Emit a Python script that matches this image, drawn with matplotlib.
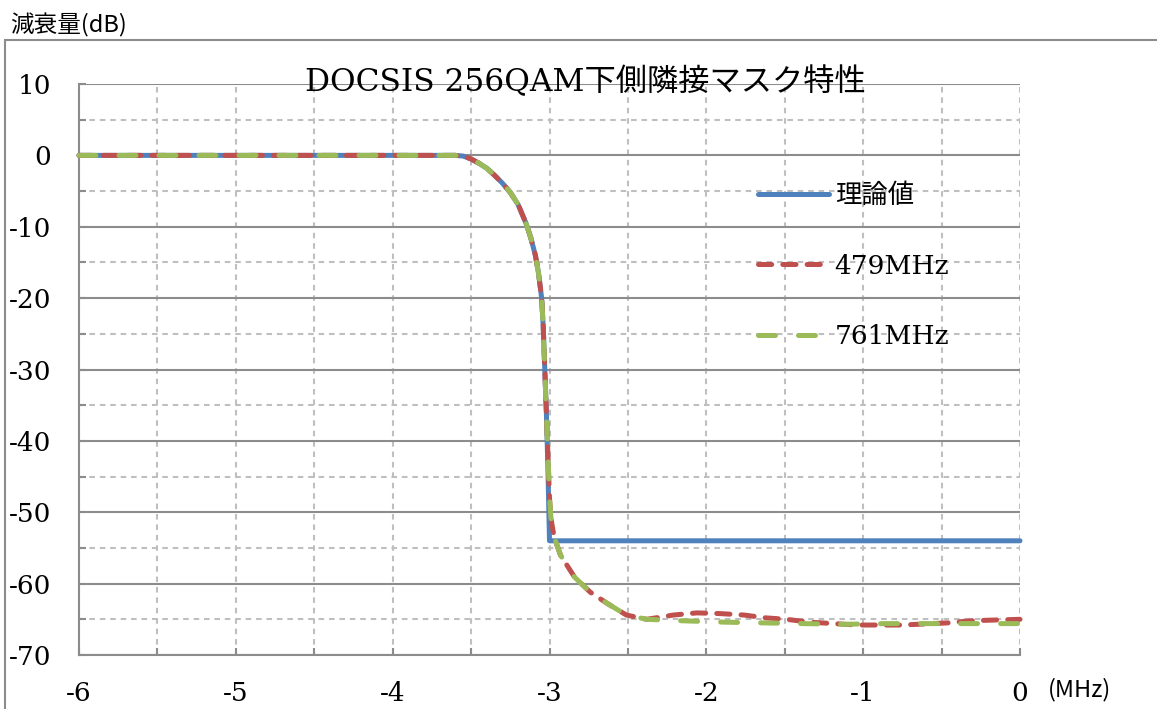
import matplotlib
matplotlib.use("Agg")
import matplotlib.pyplot as plt
from matplotlib.patches import Rectangle
from matplotlib.ticker import MultipleLocator

# ── Data ───────────────────────────────────────────────────────────────────
theory_x = [-6.0, -3.6, -3.55, -3.5, -3.45, -3.4, -3.35, -3.3, -3.25, -3.2,
            -3.15, -3.12, -3.09, -3.07, -3.05, -3.04, -3.03, -3.02, -3.01,
            -3.0, 0.0]
theory_y = [0.0, 0.0, -0.1, -0.5, -1.1, -1.8, -2.8, -3.9, -5.2, -6.9,
            -9.5, -11.5, -14.0, -16.5, -20.0, -24.0, -30.0, -36.0, -44.0,
            -54.0, -54.0]

m479_x = [-6.0, -3.6, -3.55, -3.5, -3.45, -3.4, -3.35, -3.3, -3.25, -3.2,
          -3.15, -3.12, -3.09, -3.07, -3.05, -3.04, -3.03, -3.02, -3.01,
          -3.0, -2.99, -2.97, -2.93, -2.84, -2.74, -2.63, -2.51, -2.38,
          -2.21, -2.06, -1.91, -1.76, -1.62, -1.49, -1.34, -1.19, -1.04,
          -0.75, -0.46, -0.31, -0.16, 0.0]
m479_y = [0.0, 0.0, -0.1, -0.5, -1.1, -1.8, -2.8, -3.9, -5.2, -6.9,
          -9.5, -11.5, -14.0, -16.5, -20.0, -24.0, -30.0, -36.0, -42.0,
          -48.0, -51.0, -53.5, -56.0, -59.1, -61.2, -62.8, -64.4, -65.0,
          -64.4, -64.1, -64.2, -64.4, -64.8, -65.0, -65.4, -65.6, -65.8,
          -65.8, -65.5, -65.2, -65.1, -65.0]

m761_x = [-6.0, -3.6, -3.55, -3.5, -3.45, -3.4, -3.35, -3.3, -3.25, -3.2,
          -3.15, -3.12, -3.09, -3.07, -3.05, -3.04, -3.03, -3.02, -3.01,
          -3.0, -2.99, -2.97, -2.93, -2.84, -2.74, -2.63, -2.51, -2.38,
          -2.16, -1.88, -1.64, -1.38, -1.13, -0.86, -0.6, -0.35, 0.0]
m761_y = [0.0, 0.0, -0.1, -0.5, -1.1, -1.8, -2.8, -3.9, -5.2, -6.9,
          -9.5, -11.5, -14.0, -16.5, -20.0, -24.0, -30.0, -36.0, -42.0,
          -48.0, -51.0, -53.5, -56.0, -59.1, -61.2, -62.8, -64.4, -65.0,
          -65.2, -65.4, -65.5, -65.6, -65.7, -65.6, -65.6, -65.6, -65.6]

x_ticks = [-6, -5, -4, -3, -2, -1, 0]
y_ticks = [10, 0, -10, -20, -30, -40, -50, -60, -70]
labels = ["理論値", "479MHz", "761MHz"]
colors = ["#4F81BD", "#C0504D", "#9BBB59"]

# ── Style ──────────────────────────────────────────────────────────────────
plt.rcParams["lines.scale_dashes"] = False
plt.rcParams["axes.unicode_minus"] = False
SERIF = ["DejaVu Serif", "Noto Sans CJK JP"]
SANS = ["Noto Sans CJK JP", "DejaVu Sans"]
GRID_DARK = "#8C8C8C"
GRID_LIGHT = "#BFBFBF"

W, H = 1157, 709
fig = plt.figure(figsize=(W / 100, H / 100), dpi=100)
ax = fig.add_axes([79 / W, 1 - 655 / H, (1020 - 79) / W, (655 - 84) / H])

# outer chart frame (right/bottom edges fall outside the image)
fig.patches.append(Rectangle((5 / W, -0.05), 1.1, 1 - 40 / H + 0.05,
                             transform=fig.transFigure, fill=False,
                             edgecolor=GRID_DARK, linewidth=1.5, zorder=0))

ax.set_xlim(-6, 0)
ax.set_ylim(-70, 10)
ax.xaxis.set_minor_locator(MultipleLocator(0.5))
ax.yaxis.set_minor_locator(MultipleLocator(5))
ax.set_xticks(x_ticks)
ax.set_xticklabels([str(v) for v in x_ticks])
ax.set_yticks(y_ticks)
ax.set_yticklabels([str(v) for v in y_ticks])

# grid
ax.grid(which="both", axis="x", color=GRID_LIGHT, linestyle=(0, (4, 3.5)),
        linewidth=1.5)
ax.grid(which="major", axis="y", color=GRID_DARK, linestyle="-", linewidth=1.5)
ax.grid(which="minor", axis="y", color=GRID_LIGHT, linestyle=(0, (4, 3.5)),
        linewidth=1.5)
ax.set_axisbelow(True)

for side in ["top", "right"]:
    ax.spines[side].set_visible(False)
for side in ["left", "bottom"]:
    ax.spines[side].set_color(GRID_DARK)
    ax.spines[side].set_linewidth(1.5)

ax.tick_params(which="both", direction="in", color=GRID_DARK, width=1.5,
               length=5)
ax.tick_params(axis="y", which="major", pad=20)
ax.tick_params(axis="x", which="major", pad=19)
for lab in ax.get_xticklabels() + ax.get_yticklabels():
    lab.set_family(SERIF)
    lab.set_fontsize(19)

# ── Lines ──────────────────────────────────────────────────────────────────
ax.plot(theory_x, theory_y, color=colors[0], linewidth=3.6,
        solid_capstyle="round", label=labels[0], zorder=3, clip_on=False)
ax.plot(m479_x, m479_y, color=colors[1], linewidth=3.6,
        dashes=(9.5, 8.0), dash_capstyle="round", label=labels[1], zorder=4,
        clip_on=False)
ax.plot(m761_x, m761_y, color=colors[2], linewidth=3.6,
        dashes=(12.2, 16.6), dash_capstyle="round", label=labels[2], zorder=5,
        clip_on=False)

leg = ax.legend(loc="upper left", bbox_to_anchor=(745 / W, 1 - 170 / H),
                bbox_transform=fig.transFigure, frameon=False,
                prop={"family": SERIF, "size": 19}, handlelength=2.7,
                handletextpad=0.2, labelspacing=1.72, borderpad=0)

# ── Texts ──────────────────────────────────────────────────────────────────
fig.text(585 / W, 1 - 82 / H, "DOCSIS 256QAM下側隣接マスク特性",
         ha="center", va="center", fontsize=22.5, family=SERIF)
fig.text(10 / W, 1 - 25 / H, "減衰量(dB)", ha="left", va="center",
         fontsize=17, family=SANS)
fig.text(1048 / W, 1 - 690 / H, "(MHz)", ha="left", va="center",
         fontsize=17, family=SANS)

fig.savefig("out.png", dpi=100)
